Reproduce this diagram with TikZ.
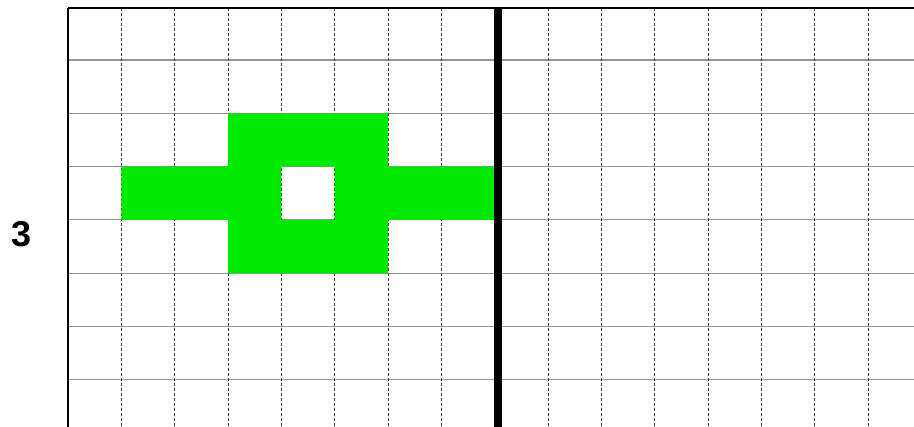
\documentclass[tikz,border=0pt]{standalone}
\usepackage{fontspec}
\setmainfont{Liberation Sans}
\definecolor{gridgray}{RGB}{150,150,150}
\definecolor{dashgray}{RGB}{60,60,60}
\definecolor{cellgreen}{RGB}{0,234,0}
\begin{document}
\begin{tikzpicture}[x=1pt,y=-1pt,
  hline/.style={draw=gridgray,line width=1.1pt},
  vline/.style={draw=dashgray,line width=0.9pt,dash pattern=on 3pt off 2pt},
  border/.style={draw=black,line width=1.4pt},
  fillcell/.style={fill=cellgreen,draw=none},
  rowlabel/.style={font=\bfseries\fontsize{36}{36}\selectfont,inner sep=0pt}]
\useasboundingbox (0,0) rectangle (914,427);
\fill[white] (0,0) rectangle (914,427);
% horizontal grid lines
\foreach \k in {1,...,7} {
  \draw[hline] (68,{8+53.3*\k-1.3}) -- (914,{8+53.3*\k-1.3});
}
% vertical dashed lines
\foreach \k in {1,...,15} {
  \draw[vline] ({68+53.33*\k},8) -- ({68+53.33*\k},427);
}
% green shape
\fill[fillcell,even odd rule]
  (121.3,166.7) -- (228,166.7) -- (228,113.3) -- (388,113.3) -- (388,166.7) -- (494.7,166.7)
  -- (494.7,220) -- (388,220) -- (388,273.3) -- (228,273.3) -- (228,220) -- (121.3,220) -- cycle
  (281.3,166.7) rectangle (334.7,220);
% borders
\draw[border] (68,8) -- (914,8);
\draw[border] (68,8) -- (68,427);
\fill[black] (494.3,9) rectangle (501.5,427);
\node[rowlabel] (lbl) at (22,234) {3};
\end{tikzpicture}
\end{document}
